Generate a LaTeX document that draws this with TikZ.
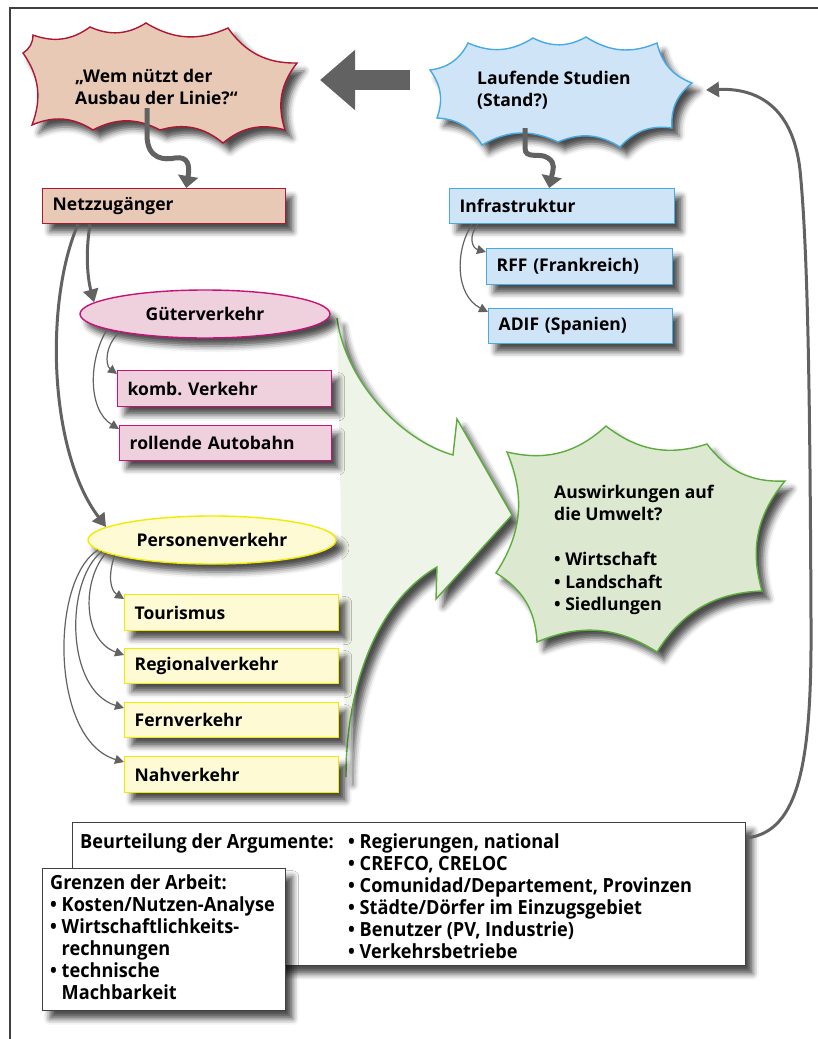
\documentclass[tikz,border=0pt]{standalone}
\usepackage{fontspec}
\setmainfont{Open Sans}
\newfontfamily\slimfont[FakeStretch=0.93]{Open Sans}
\usetikzlibrary{shapes.geometric,arrows.meta,shadows.blur}
\definecolor{peach}{RGB}{232,201,181}
\definecolor{wine}{RGB}{172,24,52}
\definecolor{skyfill}{RGB}{207,228,247}
\definecolor{skyline}{RGB}{72,170,226}
\definecolor{rosefill}{RGB}{239,208,221}
\definecolor{roseline}{RGB}{198,18,122}
\definecolor{lemonfill}{RGB}{253,250,212}
\definecolor{lemonline}{RGB}{244,234,0}
\definecolor{leaffill}{RGB}{220,232,207}
\definecolor{leafline}{RGB}{92,172,62}
\definecolor{palegreen}{RGB}{239,244,232}
\definecolor{arrowgray}{RGB}{98,98,98}
\tikzset{
  drop/.style={blur shadow={shadow xshift=7pt,shadow yshift=-8pt,shadow blur radius=6pt,shadow opacity=70}},
  box/.style={draw,line width=1.4pt,drop,anchor=north west,align=left,inner xsep=10pt,
    minimum height=35pt,font=\fontsize{17.5}{20}\selectfont\bfseries},
  oval/.style={ellipse,draw,line width=1.4pt,drop,minimum width=250pt,minimum height=48pt,
    inner sep=0pt,font=\fontsize{17.5}{20}\selectfont\bfseries},
  burst/.style={line width=1.4pt,drop},
  bursttext/.style={anchor=west,align=left,inner sep=0pt,font=\fontsize{17.5}{22.5}\selectfont\bfseries},
  thin/.style={draw=arrowgray,line width=1.2pt,-{Triangle[length=9pt,width=9pt]}},
  thick/.style={draw=arrowgray,line width=3pt,-{Triangle[length=13pt,width=15pt]}},
  wavy/.style={draw=arrowgray,line width=5pt,-{Triangle[length=12pt,width=20pt]}},
  note/.style={draw=black!75,line width=1.4pt,fill=white,drop,anchor=north west},
  notetext/.style={inner sep=0pt,align=left,font=\fontsize{19.5}{22}\selectfont\slimfont\bfseries}
}
\begin{document}
\begin{tikzpicture}[x=1pt,y=-1pt]
\useasboundingbox (0,0) rectangle (818,1039);
% frame
\draw[line width=1.5pt,black!75] (10,1039) -- (10,8) -- (818,8);

% big green arrow
\fill[palegreen,drop] (337,318) .. controls (345,380) and (400,440) .. (453,455) -- (457,419)
  -- (512,515) -- (436,599) -- (437,567) .. controls (380,600) and (346,680) .. (346,777) -- cycle;
\draw[leafline,line width=1.4pt] (337,318) .. controls (345,380) and (400,440) .. (453,455) -- (457,419)
  -- (512,515) -- (436,599) -- (437,567) .. controls (380,600) and (346,680) .. (346,777);

% bursts
\path[burst,draw=wine,fill=peach] (23,53) to[bend right=28] (33,35) to[bend right=28] (90,27)
  to[bend right=28] (146,23) to[bend right=28] (228,28) to[bend right=28] (297,63)
  to[bend right=28] (285,130) to[bend right=28] (223,143) to[bend right=28] (160,130)
  to[bend right=28] (93,130) to[bend right=28] (32,125) to[bend right=28] (23,53) -- cycle;
\node[bursttext] (wem) at (75,87) {„Wem nützt der\\Ausbau der Linie?“};

\path[burst,draw=skyline,fill=skyfill] (430,70) to[bend right=28] (468,43) to[bend right=28] (533,38)
  to[bend right=28] (586,37) to[bend right=28] (657,43) to[bend right=28] (692,83)
  to[bend right=28] (672,128) to[bend right=28] (620,147) to[bend right=28] (558,142)
  to[bend right=28] (482,145) to[bend right=28] (437,118) to[bend right=28] (430,70) -- cycle;
\node[bursttext] (studien) at (477,90) {Laufende Studien\\(Stand?)};

\path[burst,draw=leafline,fill=leaffill] (507,452) to[bend right=28] (606,426) to[bend right=28] (707,444)
  to[bend right=28] (785,481) to[bend right=28] (762,591) to[bend right=28] (657,652)
  to[bend right=28] (537,642) to[bend right=28] (496,573) to[bend right=28] (507,452) -- cycle;
\node[bursttext] (umwelt) at (554,550) {Auswirkungen auf\\die Umwelt?\\[22.5pt]\textbullet\ Wirtschaft\\\textbullet\ Landschaft\\\textbullet\ Siedlungen};

\coordinate (wemfoot) at (147,108);
\coordinate (wemright) at (320,80);
\coordinate (studleft) at (410,80);
\coordinate (studfoot) at (525,128);
\coordinate (studright) at (706,90);

% left arrow between the bursts
\draw[arrowgray,line width=20pt,-{Triangle[length=35pt,width=58pt]}] (studleft) -- (wemright);

% boxes
\node[box,fill=peach,draw=wine,text width=223pt] (netz) at (42,188) {Netzzugänger};
\node[box,fill=skyfill,draw=skyline,text width=205pt] (infra) at (449,188) {Infrastruktur};
\node[box,fill=skyfill,draw=skyline,text width=166pt,minimum height=36pt] (rff) at (486,248) {RFF (Frankreich)};
\node[box,fill=skyfill,draw=skyline,text width=164pt] (adif) at (488,308) {ADIF (Spanien)};
\node[oval,fill=rosefill,draw=roseline] (gueter) at (205,314) {Güterverkehr};
\node[box,fill=rosefill,draw=roseline,text width=194pt,minimum height=36pt] (komb) at (117,370) {komb.\ Verkehr};
\node[box,fill=rosefill,draw=roseline,text width=192pt] (rola) at (119,425) {rollende Autobahn};
\node[oval,fill=lemonfill,draw=lemonline,minimum width=248pt] (pers) at (212,540) {Personenverkehr};
\node[box,fill=lemonfill,draw=lemonline,text width=194pt,minimum height=36pt] (tour) at (124,594) {Tourismus};
\node[box,fill=lemonfill,draw=lemonline,text width=194pt] (regio) at (124,648) {Regionalverkehr};
\node[box,fill=lemonfill,draw=lemonline,text width=194pt] (fern) at (124,702) {Fernverkehr};
\node[box,fill=lemonfill,draw=lemonline,text width=194pt,minimum height=36pt] (nah) at (124,756) {Nahverkehr};

% connectors
\draw[wavy] (wemfoot) -- (147,135) .. controls (147,160) and (165,160) .. (175,158)
  .. controls (188,156) and (190,165) .. ([xshift=22pt]netz.north);
\draw[wavy] (studfoot) -- (525,148) .. controls (525,160) and (540,152) .. (548,158)
  .. controls (556,163) and (553,170) .. ([xshift=-13pt]infra.north);
\draw[thick] ([xshift=48pt]netz.south west) .. controls (85,255) and (88,280) .. (gueter.174);
\draw[thick] ([xshift=36pt]netz.south west) .. controls (45,300) and (48,450) .. (pers.173);
\draw[thin] ([xshift=29pt]infra.south west) .. controls (468,236) and (472,248) .. ([yshift=-4pt]rff.north west);
\draw[thin] ([xshift=23pt]infra.south west) .. controls (455,250) and (455,295) .. ([yshift=-4pt]adif.north west);
\draw[thin] (gueter.192) .. controls (105,345) and (105,365) .. ([yshift=-4pt]komb.north west);
\draw[thin] (gueter.189) .. controls (88,360) and (88,410) .. ([yshift=-4pt]rola.north west);
\draw[thin] (pers.189) .. controls (108,575) and (110,590) .. ([yshift=-5pt]tour.north west);
\draw[thin] (pers.187) .. controls (82,580) and (82,640) .. ([yshift=-7pt]regio.north west);
\draw[thin] (pers.186) .. controls (65,580) and (65,690) .. ([yshift=-6pt]fern.north west);
\draw[thin] (pers.185) .. controls (50,580) and (50,740) .. ([yshift=-6pt]nah.north west);

% notes at the bottom
\node[note,minimum width=673pt,minimum height=143pt] (beur) at (72,822) {};
\node[notetext,anchor=west] (beurlabel) at (80,843) {Beurteilung der Argumente:};
\node[notetext,anchor=north west] (beurlist) at (348,833) {\textbullet\ Regierungen, national\\
  \textbullet\ CREFCO, CRELOC\\\textbullet\ Comunidad/Departement, Provinzen\\
  \textbullet\ Städte/Dörfer im Einzugsgebiet\\\textbullet\ Benutzer (PV, Industrie)\\
  \textbullet\ Verkehrsbetriebe};
\node[note,minimum width=243pt,minimum height=142pt] (grenz) at (42,868) {};
\node[notetext,anchor=north west] (grenzlist) at (50,874) {Grenzen der Arbeit:\\
  \textbullet\ Kosten/Nutzen-Analyse\\\textbullet\ Wirtschaftlichkeits-\\
  \phantom{\textbullet\ }rechnungen\\\textbullet\ technische\\\phantom{\textbullet\ }Machbarkeit};

\draw[thick] ([yshift=-16pt]beur.north east) .. controls (800,832) and (812,760) .. (811,620)
  .. controls (810,400) and (808,250) .. (800,170) .. controls (792,100) and (750,88) .. (studright);
\end{tikzpicture}
\end{document}
